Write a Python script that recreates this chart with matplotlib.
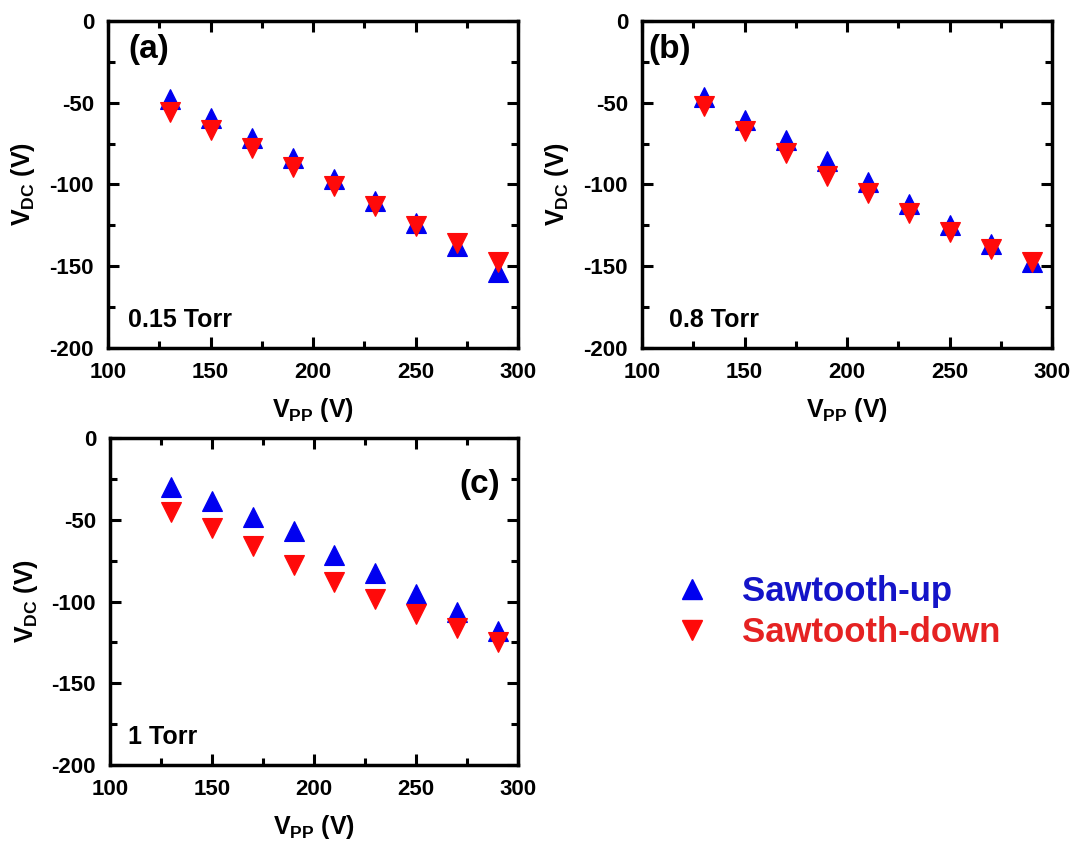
import matplotlib
matplotlib.use('Agg')
import matplotlib.pyplot as plt
from matplotlib.lines import Line2D
from matplotlib.ticker import MultipleLocator

plt.rcParams['font.family'] = ['Liberation Sans', 'DejaVu Sans']
plt.rcParams['font.weight'] = 'bold'
plt.rcParams['axes.unicode_minus'] = False
plt.rcParams['mathtext.fontset'] = 'custom'
plt.rcParams['mathtext.rm'] = 'Liberation Sans:bold'
plt.rcParams['mathtext.bf'] = 'Liberation Sans:bold'
plt.rcParams['mathtext.it'] = 'Liberation Sans:bold'

# ---- data ----
vpp = [130, 150, 170, 190, 210, 230, 250, 270, 290]

up_a = [-47.6, -59.3, -71.4, -83.5, -96.5, -109.8, -123.7, -137.8, -153.5]
down_a = [-55.5, -66.5, -77.5, -89.5, -101.0, -113.0, -125.6, -135.5, -147.5]

up_b = [-46.6, -60.3, -72.9, -85.7, -98.7, -112.0, -124.8, -136.5, -147.5]
down_b = [-52.0, -67.5, -80.5, -94.5, -105.5, -117.5, -129.0, -139.5, -147.5]

up_c = [-30.1, -38.6, -48.2, -56.8, -71.6, -82.4, -95.2, -106.6, -118.0]
down_c = [-45.0, -55.0, -66.0, -77.5, -88.0, -98.5, -107.5, -116.0, -124.5]

pressures = ['0.15 Torr', '0.8 Torr', '1 Torr']
panel_tags = ['(a)', '(b)', '(c)']
series_labels = ['Sawtooth-up', 'Sawtooth-down']

x_ticks = [100, 150, 200, 250, 300]
y_ticks = [0, -50, -100, -150, -200]

blue = '#0000F0'
red = '#FF0A0A'
blue_txt = '#1414C8'
red_txt = '#E52222'

W, H = 1071, 844
fig = plt.figure(figsize=(W / 100, H / 100), dpi=100)

rects = [
    (108 / W, 1 - 348 / H, 410 / W, 327 / H),
    (642 / W, 1 - 348 / H, 410 / W, 327 / H),
    (110 / W, 1 - 765 / H, 408 / W, 327 / H),
]
ups = [up_a, up_b, up_c]
downs = [down_a, down_b, down_c]

tag_pos = [(0.05, 0.96, 'left'), (0.015, 0.96, 'left'), (0.955, 0.905, 'right')]
pres_pos = [(0.05, 0.085), (0.065, 0.085), (0.045, 0.085)]

for i in range(3):
    ax = fig.add_axes(rects[i])
    ax.plot(vpp, ups[i], linestyle='none', marker='^', markersize=15,
            color=blue, markeredgewidth=0.8, markeredgecolor=blue, zorder=3)
    ax.plot(vpp, downs[i], linestyle='none', marker='v', markersize=15,
            color=red, markeredgewidth=0.8, markeredgecolor=red, zorder=4)
    ax.set_xlim(100, 300)
    ax.set_ylim(-200, 0)
    ax.set_xticks(x_ticks)
    ax.set_yticks(y_ticks)
    ax.xaxis.set_minor_locator(MultipleLocator(25))
    ax.yaxis.set_minor_locator(MultipleLocator(25))
    ax.tick_params(which='both', direction='in', top=True, right=True,
                   width=2.2, labelsize=16, pad=10)
    ax.tick_params(which='major', length=8)
    ax.tick_params(which='minor', length=5)
    for lab in ax.get_xticklabels() + ax.get_yticklabels():
        lab.set_fontweight('bold')
    for sp in ax.spines.values():
        sp.set_linewidth(2.5)
    ax.set_xlabel(r'$\mathrm{V_{PP}}$ (V)', fontsize=18, fontweight='bold', va='center')
    ax.set_ylabel(r'$\mathrm{V_{DC}}$ (V)', fontsize=18, fontweight='bold', va='center')
    ax.xaxis.set_label_coords(0.5, -0.19)
    ax.yaxis.set_label_coords(-0.207, 0.5)
    tx, ty, ha = tag_pos[i]
    ax.text(tx, ty, panel_tags[i], transform=ax.transAxes, fontsize=24,
            fontweight='bold', ha=ha, va='top')
    px, py = pres_pos[i]
    ax.text(px, py, pressures[i], transform=ax.transAxes, fontsize=18,
            fontweight='bold', ha='left', va='center')

handles = [
    Line2D([], [], linestyle='none', marker='^', markersize=15, color=blue),
    Line2D([], [], linestyle='none', marker='v', markersize=15, color=red),
]
leg = fig.legend(handles, series_labels, loc='center left',
                 bbox_to_anchor=(640 / W, 1 - 612 / H), frameon=False,
                 prop={'size': 25, 'weight': 'bold'}, handletextpad=0.85,
                 labelspacing=0.25, handlelength=1.2,
                 labelcolor=[blue_txt, red_txt])

fig.savefig('out.png', dpi=100)
